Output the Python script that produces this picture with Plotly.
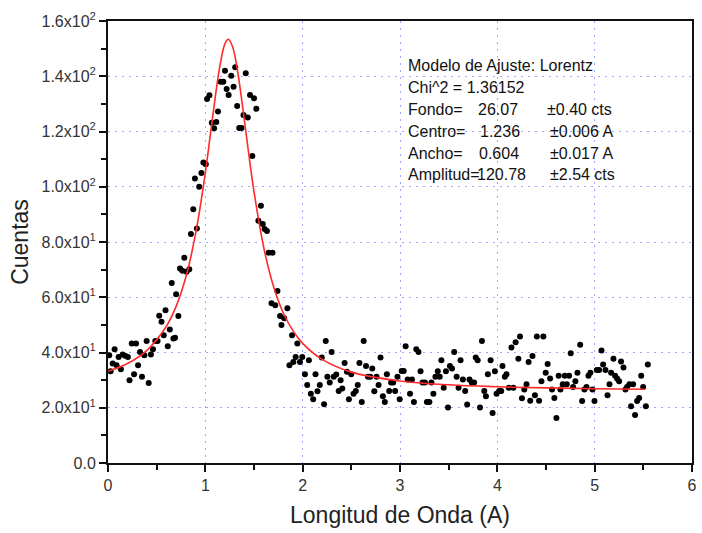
import plotly.graph_objects as go

# ---- data points ----
data_x = [0.013,0.027,0.048,0.068,0.088,0.109,0.132,0.150,0.176,0.204,0.221,0.244,0.268,0.288,0.309,0.329,0.349,0.373,0.397,0.418,
          0.441,0.462,0.486,0.509,0.526,0.550,0.573,0.591,0.614,0.635,0.655,0.672,0.689,0.700,0.723,0.740,0.764,0.784,0.808,0.835,
          0.852,0.876,0.893,0.913,0.937,0.960,0.980,1.005,1.018,1.042,1.066,1.090,1.113,1.130,1.158,1.185,1.202,1.219,1.239,1.266,
          1.290,1.307,1.327,1.348,1.372,1.392,1.415,1.436,1.459,1.483,1.500,1.524,1.545,1.571,1.590,1.609,1.633,1.650,1.680,1.690,
          1.718,1.741,1.768,1.782,1.810,1.843,1.864,1.891,1.904,1.928,1.945,1.972,1.996,
          2.023,2.047,2.064,2.084,2.108,2.132,2.152,2.176,2.196,2.220,2.237,2.254,2.278,2.298,2.319,2.345,2.370,2.390,2.407,2.431,
          2.455,2.475,2.499,2.523,2.546,2.566,2.583,2.607,2.627,2.651,2.671,2.695,2.715,2.736,2.759,2.780,2.800,2.824,2.844,2.865,
          2.889,2.909,2.930,2.950,2.974,2.997,3.017,3.038,3.058,3.079,3.103,3.123,3.143,3.167,3.190,3.211,3.231,3.256,3.276,3.302,
          3.323,3.343,3.364,3.388,3.408,3.425,3.449,3.472,3.493,3.513,3.534,3.557,3.582,3.602,3.622,3.646,3.670,3.690,3.714,3.737,
          3.761,3.778,3.798,3.822,3.842,3.866,3.883,3.903,3.931,3.951,3.975,3.992,4.019,4.040,4.053,4.077,4.094,4.117,4.145,4.165,
          4.188,4.216,4.233,4.253,4.277,4.300,4.321,4.338,4.361,4.386,4.406,4.429,4.453,4.473,4.497,4.517,4.542,4.562,4.586,4.607,
          4.630,4.648,4.672,4.692,4.713,4.737,4.754,4.778,4.802,4.823,4.851,4.871,4.895,4.916,4.936,4.956,4.977,4.998,5.022,5.046,
          5.070,5.087,5.111,5.132,5.152,5.169,5.193,5.210,5.230,5.251,5.271,5.296,5.316,5.333,5.357,5.374,5.395,5.415,5.436,5.457,
          5.478,5.498,5.526,5.546]
data_y = [39.0,33.2,36.0,41.2,35.4,38.4,33.9,39.3,38.8,38.4,30.0,43.3,32.1,43.3,35.4,40.2,31.2,39.0,44.2,29.0,
          39.3,41.2,44.2,44.2,53.3,51.1,46.2,55.3,42.3,48.3,65.2,45.1,45.3,61.1,53.2,70.4,69.6,74.3,69.2,70.1,
          82.9,91.9,103.0,84.9,100.0,105.0,108.8,108.1,131.8,133.1,123.2,121.2,123.4,127.2,138.0,138.0,142.0,135.4,133.2,140.2,
          136.2,143.3,129.2,121.3,121.3,126.0,141.1,125.1,133.2,111.1,132.0,128.2,87.7,93.1,86.5,84.7,84.0,76.1,57.8,76.1,
          57.1,62.3,53.2,50.0,52.4,56.0,35.4,46.2,36.6,38.4,43.3,36.6,38.4,
          32.1,28.2,37.2,25.1,23.1,32.1,26.0,28.2,38.2,21.3,44.2,31.2,29.1,40.2,31.2,32.0,26.1,30.0,27.0,36.2,
          33.0,23.1,32.1,25.1,26.1,28.2,36.2,22.1,44.2,35.1,31.2,31.2,34.2,26.0,31.2,28.2,38.2,24.2,22.1,32.1,
          26.1,29.1,29.1,26.1,31.2,23.1,33.3,33.3,42.3,30.2,25.1,30.2,22.1,41.2,40.2,33.2,29.1,29.1,22.1,22.1,
          29.1,25.1,31.2,33.2,31.2,37.2,27.2,33.2,20.1,35.1,34.2,40.2,31.2,27.2,37.2,30.2,26.1,21.2,30.2,29.1,
          29.1,38.2,37.2,20.1,44.2,26.1,24.2,32.1,37.2,18.1,33.2,25.1,26.1,26.1,35.1,31.2,32.1,27.2,41.8,27.2,
          43.7,37.7,45.8,23.4,26.6,28.5,36.6,22.5,38.7,24.5,45.8,22.5,29.6,45.8,32.7,35.8,30.6,26.6,23.5,16.3,
          31.6,26.6,28.5,31.6,28.5,31.6,39.7,27.5,29.6,32.7,42.8,22.4,26.6,27.5,31.6,32.7,26.6,22.4,33.7,33.7,
          40.7,35.7,33.7,24.5,28.5,32.7,37.7,31.6,30.6,29.6,36.7,34.6,26.6,27.5,28.5,20.5,28.5,17.4,22.4,23.5,
          31.6,27.5,20.5,35.7]

# ---- fitted curve points ----
fit_x = [0.0,0.2,0.4,0.6,0.7,0.8,0.9,1.0,1.05,1.1,1.15,1.2,1.236,1.28,1.33,1.38,1.45,1.5,1.6,1.7,1.8,1.9,2.0,2.2,2.5,3.0,3.5,4.0,4.5,5.0,5.52]
fit_y = [33.2,36.0,40.8,49.5,56.7,67.3,83.0,105.1,118.4,131.9,143.8,151.6,153.4,150.7,142.1,129.8,110.8,98.2,78.0,64.0,54.4,47.9,43.3,37.5,32.9,29.7,28.3,27.6,27.2,26.9,26.7]

# ---- axis ticks ----
x_ticks = [0, 1, 2, 3, 4, 5, 6]
y_ticks = [0, 20, 40, 60, 80, 100, 120, 140, 160]
y_ticktext = ["0.0", "2.0x10<sup>1</sup>", "4.0x10<sup>1</sup>", "6.0x10<sup>1</sup>", "8.0x10<sup>1</sup>",
              "1.0x10<sup>2</sup>", "1.2x10<sup>2</sup>", "1.4x10<sup>2</sup>", "1.6x10<sup>2</sup>"]

# ---- fit info text ----
info_labels = ["Modelo de Ajuste: Lorentz", "Chi^2 = 1.36152", "Fondo=", "Centro=", "Ancho=", "Amplitud="]
info_values = ["", "", "26.07", "1.236", "0.604", "120.78"]
info_errors = ["", "", "±0.40 cts", "±0.006 A", "±0.017 A", "±2.54 cts"]

FONT = "Liberation Sans, Arial, sans-serif"
GRID = "#a4a4ff"

fig = go.Figure()
fig.add_trace(go.Scatter(x=data_x, y=data_y, mode="markers",
                         marker=dict(color="black", size=6), showlegend=False))
fig.add_trace(go.Scatter(x=fit_x, y=fit_y, mode="lines", line_shape="spline",
                         line=dict(color="#ff2a2a", width=1.6), showlegend=False))

# annotation placement (pixel -> data coords)
def px2x(px):
    return (px - 108) / 98.15
def py2y(py):
    return (462.7 - py) / 2.76

line_py = [66, 88, 110, 131, 153, 174.5]
val_px = [479, 481, 480, 478]
err_px = [549, 552, 552, 552]
for i in range(len(info_labels)):
    y = py2y(line_py[i])
    fig.add_annotation(x=px2x(408), y=y, xref="x", yref="y", text=info_labels[i],
                       showarrow=False, xanchor="left", yanchor="middle",
                       font=dict(family=FONT, size=16, color="#111"))
    if info_values[i]:
        fig.add_annotation(x=px2x(val_px[i - 2]), y=y, xref="x", yref="y", text=info_values[i],
                           showarrow=False, xanchor="left", yanchor="middle",
                           font=dict(family=FONT, size=16, color="#111"))
    if info_errors[i]:
        fig.add_annotation(x=px2x(err_px[i - 2]), y=y, xref="x", yref="y", text=info_errors[i],
                           showarrow=False, xanchor="left", yanchor="middle",
                           font=dict(family=FONT, size=16, color="#111"))

fig.update_layout(
    width=702, height=533,
    margin=dict(l=108, r=5, t=21, b=70),
    paper_bgcolor="white", plot_bgcolor="white",
    font=dict(family=FONT, color="#222"),
    xaxis=dict(range=[0, 6], tickvals=x_ticks, ticks="outside", ticklen=7, tickwidth=2, tickcolor="#111",
               showline=True, linecolor="#111", linewidth=2, mirror=True,
               showgrid=True, gridcolor=GRID, griddash="2px,5px", gridwidth=1,
               zeroline=False, tickfont=dict(size=16, color="#333"),
               minor=dict(dtick=0.5, ticks="outside", ticklen=5, tickwidth=2, tickcolor="#111", showgrid=False),
               title=dict(text="Longitud de Onda (A)", font=dict(size=23, color="#222"), standoff=14)),
    yaxis=dict(range=[0, 160], tickvals=y_ticks, ticktext=y_ticktext, ticks="outside", ticklen=7, tickwidth=2,
               tickcolor="#111",
               showline=True, linecolor="#111", linewidth=2, mirror=True,
               showgrid=True, gridcolor=GRID, griddash="2px,5px", gridwidth=1,
               zeroline=False, tickfont=dict(size=16, color="#333"),
               minor=dict(dtick=10, ticks="outside", ticklen=5, tickwidth=2, tickcolor="#111", showgrid=False),
               title=dict(text="Cuentas", font=dict(size=23, color="#222"), standoff=6)),
)

fig.write_html("out.html")
